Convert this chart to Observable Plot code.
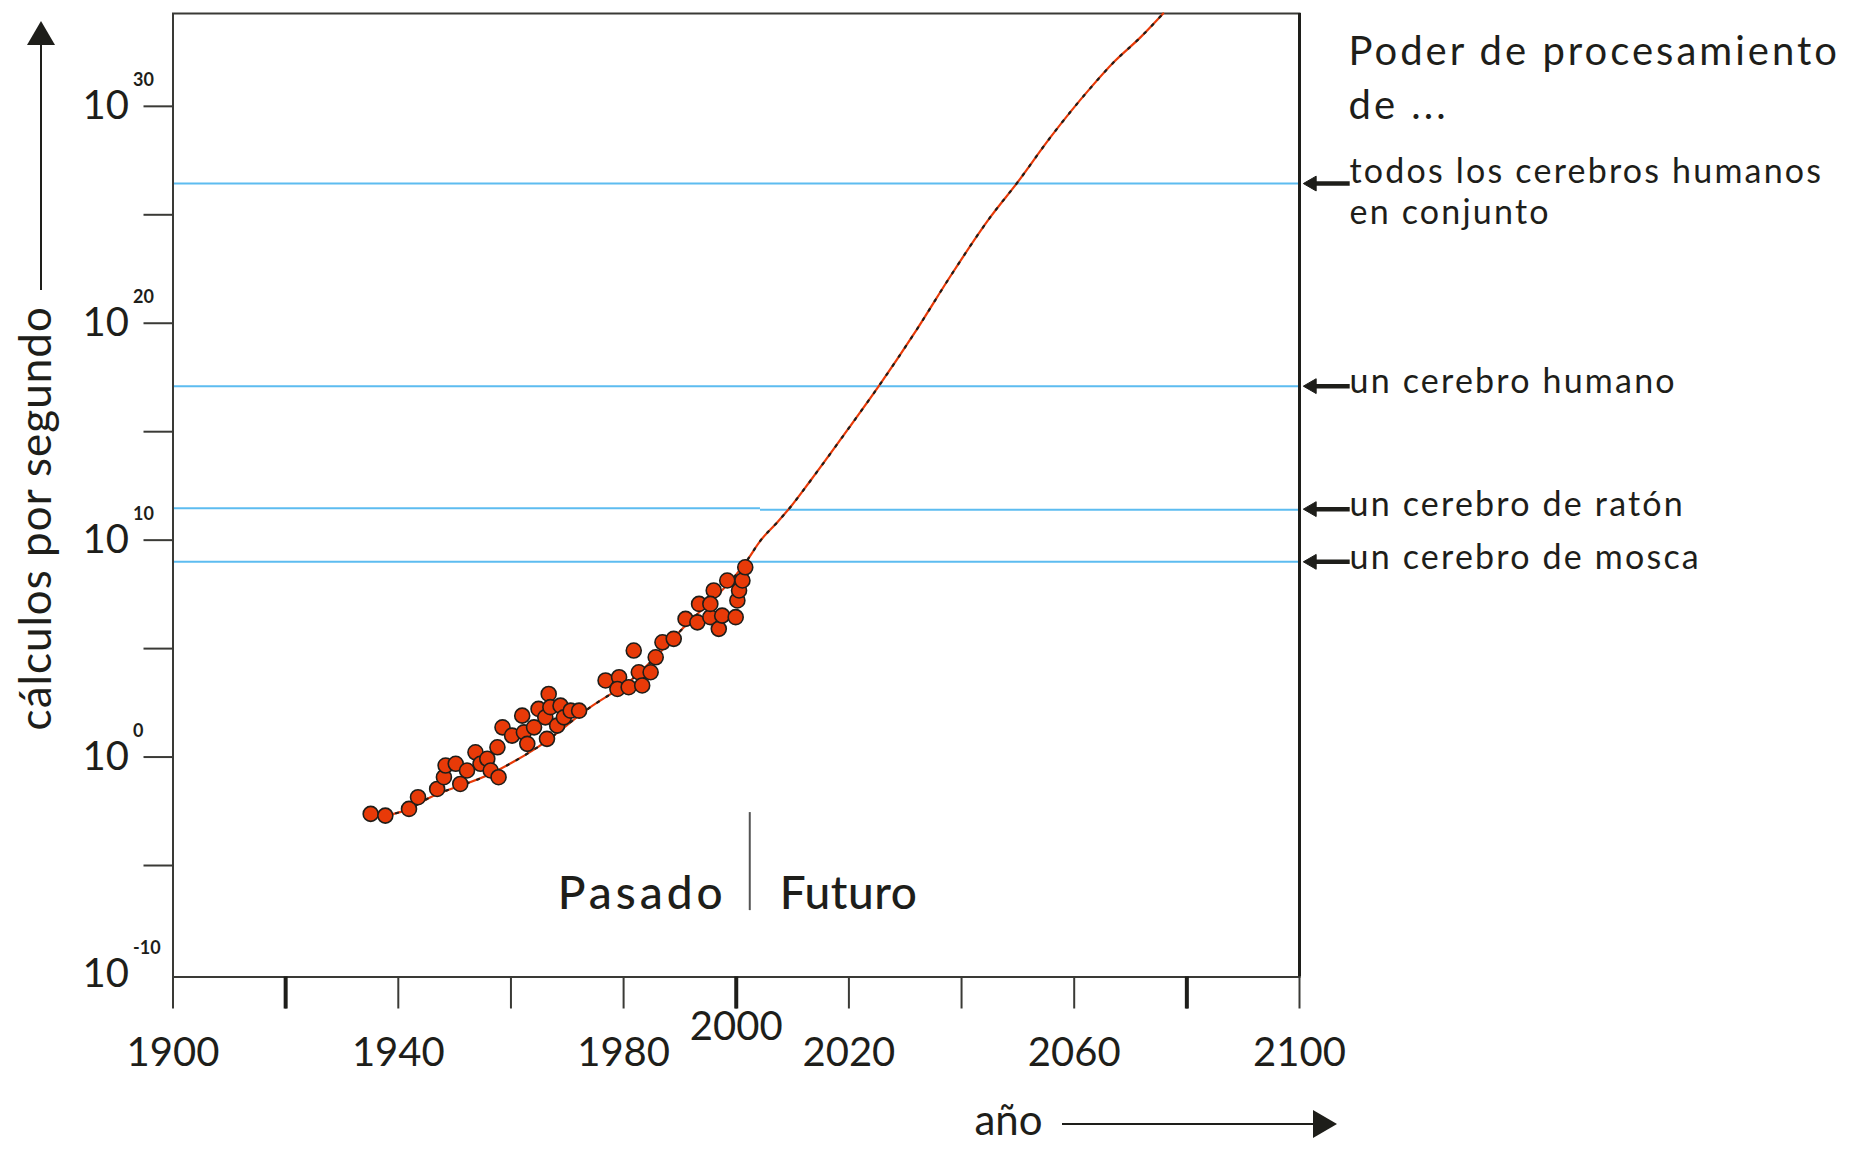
<!DOCTYPE html>
<html>
<head>
<meta charset="utf-8">
<script src="https://cdn.jsdelivr.net/npm/d3@7"></script>
<script src="https://cdn.jsdelivr.net/npm/@observablehq/plot@0.6"></script>
<style>
  html, body { margin: 0; padding: 0; background: #fff; }
  #chart { position: relative; width: 1865px; height: 1154px; }
</style>
</head>
<body>
<div id="chart"></div>
<script>
// ---- Data (years, and log10 of calculations per second) ----
const scatterYear = [1935.1,1937.7,1941.9,1943.5,1946.9,1948.1,1948.4,1950.2,1951.0,1952.2,1953.7,1954.6,1955.8,1956.4,1957.8,1957.6,1958.5,1960.2,1962.0,1962.3,1962.9,1964.1,1964.9,1966.1,1966.4,1966.7,1967.0,1968.2,1968.8,1969.4,1970.6,1972.1,1976.8,1979.2,1978.9,1980.9,1981.8,1982.7,1983.3,1984.8,1985.7,1986.9,1988.9,1991.0,1993.1,1993.4,1995.4,1996.0,1996.9,1997.5,1998.4,1999.9,2000.2,2000.5,2001.1,2001.6,1995.4];
const scatterExp  = [-2.62,-2.70,-2.39,-1.85,-1.47,-0.93,-0.39,-0.31,-1.24,-0.62,0.22,-0.31,-0.08,-0.62,-0.93,0.45,1.37,0.99,1.91,1.14,0.61,1.37,2.22,1.83,0.84,2.91,2.30,1.45,2.37,1.83,2.14,2.14,3.53,3.68,3.14,3.22,4.91,3.91,3.30,3.91,4.60,5.29,5.45,6.37,6.21,7.06,6.45,7.68,5.91,6.52,8.14,6.45,7.22,7.68,8.14,8.75,7.06];

const trendYear = [1937.7,1941.9,1945.1,1956.4,1964.7,1974.1,1981.2,1990.7,2001.9,2004.3,2007.3,2009.6,2013.2,2020.3,2025.3,2032.1,2038.1,2045.1,2049.8,2055.8,2062.9,2067.0,2071.8,2075.8];
const trendExp  = [-2.70,-2.39,-1.93,-0.77,0.45,2.30,3.53,5.98,9.06,9.98,10.83,11.52,12.75,15.28,17.10,19.73,22.20,24.89,26.45,28.58,30.85,32.03,33.19,34.28];

const levelLabels = ["todos los cerebros humanos\nen conjunto", "un cerebro humano", "un cerebro de ratón", "un cerebro de mosca"];
const levelExp = [26.44, 17.10, 11.43, 9.00];
// blue reference lines (the mouse line has a small jog near 2004)
const segFrom = [1900, 1900, 1900, 2004.3, 1900];
const segTo   = [2100, 2100, 2004.3, 2100, 2100];
const segExp  = [26.44, 17.10, 11.47, 11.40, 9.00];

const xTickYears  = [1900,1920,1940,1960,1980,2000,2020,2040,2060,2080,2100];
const xBoldYears  = [1920,2000,2080];
const xLabelYears = [1900,1940,1980,2020,2060,2100];
const xRaisedLabel = [2000];
const yTickExp  = [30,25,20,15,10,5,0,-5];
const yLabelExp = [30,20,10,0,-10];

const splitYear = 2002.4;
const splitFrom = -2.56, splitTo = -7.08;
const eraExp = -6.34;
const arrowFromYear = 2109, arrowToYear = 2102.2;

const FONT = "Lato, 'Open Sans', sans-serif";
const RED = "#e83a08";
const BLUE = "#5dbcf0";
const INK = "#1e1e1a";

const segs = segFrom.map((d, i) => ({x1: d, x2: segTo[i], e: segExp[i]}));
const levels = levelLabels.map((t, i) => ({t, e: levelExp[i]}));
const pts = scatterYear.map((y, i) => ({year: y, e: scatterExp[i]}));
const trend = trendYear.map((y, i) => ({year: y, e: trendExp[i]}));

const svg = Plot.plot({
  width: 1865,
  height: 1154,
  marginLeft: 172.5,
  marginRight: 566,
  marginTop: 13,
  marginBottom: 177.5,
  style: {fontFamily: FONT, fontSize: "40px", color: INK, background: "#fff", overflow: "visible"},
  x: {domain: [1900, 2100], axis: null, label: null},
  y: {domain: [-10.14, 34.28], axis: null, label: null},
  marks: [
    Plot.ruleY(segs, {x1: "x1", x2: "x2", y: "e", stroke: BLUE, strokeWidth: 2}),
    Plot.frame({stroke: "#3a3a36", strokeWidth: 2}),
    Plot.ruleX([2100], {stroke: INK, strokeWidth: 3}),
    // y ticks and labels
    Plot.axisY({ticks: yTickExp, tickSize: 29, tickFormat: () => "", label: null, stroke: "#3a3a36", strokeWidth: 2}),
    Plot.text(yLabelExp, {y: d => d, frameAnchor: "left", dx: -44, text: () => "10", textAnchor: "end", lineAnchor: "middle", fontSize: 40, fill: INK}),
    Plot.text(yLabelExp, {y: d => d, frameAnchor: "left", dx: -40, dy: -26, text: d => String(d), textAnchor: "start", lineAnchor: "middle", fontSize: 18, fontWeight: "bold", fill: INK}),
    // x ticks and labels
    Plot.axisX({ticks: xTickYears, tickSize: 32, tickFormat: () => "", label: null, stroke: "#3a3a36", strokeWidth: 2}),
    Plot.axisX({ticks: xBoldYears, tickSize: 32, tickFormat: () => "", label: null, stroke: INK, strokeWidth: 4}),
    Plot.text(xLabelYears, {x: d => d, frameAnchor: "bottom", dy: 76, text: d => String(d), lineAnchor: "middle", fontSize: 40, fill: INK}),
    Plot.text(xRaisedLabel, {x: d => d, frameAnchor: "bottom", dy: 50, text: d => String(d), lineAnchor: "middle", fontSize: 40, fill: INK}),
    // trend line and measurements
    Plot.line(trend, {x: "year", y: "e", curve: "monotone-x", stroke: RED, strokeWidth: 2.2}),
    Plot.line(trend, {x: "year", y: "e", curve: "monotone-x", stroke: INK, strokeWidth: 2.2, strokeDasharray: "2,9"}),
    Plot.dot(pts, {x: "year", y: "e", r: 7.5, fill: RED, stroke: INK, strokeWidth: 1.6}),
    // Pasado | Futuro
    Plot.ruleX([splitYear], {y1: splitFrom, y2: splitTo, stroke: "#555", strokeWidth: 2}),
    Plot.text(["Pasado"], {x: splitYear, y: eraExp, dx: -23, textAnchor: "end", lineAnchor: "middle", fontSize: 46, fontWeight: 500, fill: INK}),
    Plot.text(["Futuro"], {x: splitYear, y: eraExp, dx: 30, textAnchor: "start", lineAnchor: "middle", fontSize: 46, fontWeight: 500, fill: INK}),
    // level arrows and labels at the right
    Plot.ruleY(levels, {x1: arrowToYear, x2: arrowFromYear, y: "e", stroke: INK, strokeWidth: 4.5}),
    Plot.dot(levels, {x: arrowToYear, y: "e", symbol: "triangle", r: 5.5, rotate: -90, fill: INK, stroke: INK, strokeWidth: 1}),
    Plot.text(levels.slice(0, 1), {y: "e", frameAnchor: "right", dx: 50, dy: 7, text: "t", textAnchor: "start", lineAnchor: "middle", lineHeight: 1.2, fontSize: 34, fill: INK}),
    Plot.text(levels.slice(1), {y: "e", frameAnchor: "right", dx: 50, dy: -4, text: "t", textAnchor: "start", lineAnchor: "middle", fontSize: 34, fill: INK}),
    // title at top right
    Plot.text(["Poder de procesamiento"], {frameAnchor: "top-right", dx: 49, dy: 39, textAnchor: "start", lineAnchor: "middle", fontSize: 40, fill: INK}),
    Plot.text(["de ..."], {frameAnchor: "top-right", dx: 49, dy: 93, textAnchor: "start", lineAnchor: "middle", fontSize: 40, fill: INK}),
    // axis titles
    Plot.text(["cálculos por segundo"], {frameAnchor: "left", dx: -136, dy: 23, rotate: -90, textAnchor: "middle", lineAnchor: "middle", fontSize: 44, fill: INK}),
    Plot.text(["año"], {frameAnchor: "bottom-right", dx: -291, dy: 144.5, textAnchor: "middle", lineAnchor: "middle", fontSize: 42, fill: INK})
  ]
});
document.getElementById("chart").appendChild(svg);

// letter spacing to mimic the wide geometric face of the original
const spacing = new Map([
  ["Poder de procesamiento", "3px"],
  ["de ...", "3px"],
  ["Pasado", "4px"],
  ["Futuro", "0.5px"],
  ["cálculos por segundo", "1px"]
]);
d3.select(svg).selectAll("text").each(function() {
  const t = this.textContent;
  if (spacing.has(t)) this.setAttribute("letter-spacing", spacing.get(t));
  else if (t.startsWith("todos") || t.startsWith("en conjunto") || t.startsWith("un cerebro")) this.setAttribute("letter-spacing", "2.2px");
});
d3.select(svg).selectAll("tspan").each(function() {
  const t = this.textContent;
  if (t.startsWith("todos") || t.startsWith("en conjunto")) this.setAttribute("letter-spacing", "2.2px");
});

// decorative axis-title arrows
const s = d3.select(svg);
s.append("line").attr("x1", 41).attr("x2", 41).attr("y1", 290).attr("y2", 40).attr("stroke", INK).attr("stroke-width", 2);
s.append("polygon").attr("points", "41,21 27,45 55,45").attr("fill", INK);
s.append("line").attr("x1", 1062).attr("x2", 1316).attr("y1", 1124).attr("y2", 1124).attr("stroke", INK).attr("stroke-width", 2);
s.append("polygon").attr("points", "1337,1124 1313,1110 1313,1138").attr("fill", INK);
</script>
</body>
</html>
